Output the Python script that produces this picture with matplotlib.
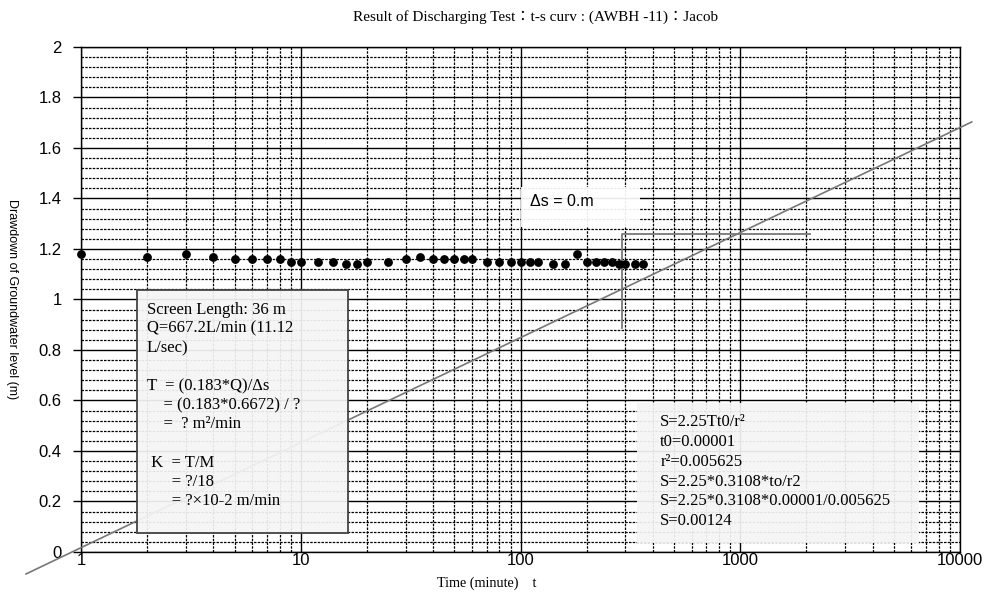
import numpy as np
import matplotlib
matplotlib.use('Agg')
import matplotlib.pyplot as plt
from matplotlib.patches import Rectangle
from matplotlib.ticker import FixedLocator, NullFormatter

# observed drawdown (t in minutes, s in m)
time_min = [1, 2, 3, 4, 5, 6, 7, 8, 9, 10, 12, 14, 16, 18, 20, 25, 30, 35, 40, 45,
            50, 55, 60, 70, 80, 90, 100, 110, 120, 140, 160, 180, 200, 220, 240, 260,
            280, 300, 330, 360]
drawdown = [1.18, 1.17, 1.18, 1.17, 1.16, 1.16, 1.16, 1.16, 1.15, 1.15, 1.15, 1.15,
            1.14, 1.14, 1.15, 1.15, 1.16, 1.17, 1.16, 1.16, 1.16, 1.16, 1.16, 1.15,
            1.15, 1.15, 1.15, 1.15, 1.15, 1.14, 1.14, 1.18, 1.15, 1.15, 1.15, 1.15,
            1.14, 1.14, 1.14, 1.14]

# Jacob straight line (end points)
jacob_t = [0.562, 11300]
jacob_s = [-0.087, 1.703]

# delta-s bracket
bracket_t = [290, 290, 2080]
bracket_s = [0.886, 1.259, 1.259]

x_ticks = [1, 10, 100, 1000, 10000]
x_ticklabels = ['1', '10', '100', '1000', '10000']
y_ticks = [0, 0.2, 0.4, 0.6, 0.8, 1, 1.2, 1.4, 1.6, 1.8, 2]
y_ticklabels = ['0', '0.2', '0.4', '0.6', '0.8', '1', '1.2', '1.4', '1.6', '1.8', '2']

title = 'Result of Discharging Test\uff1at-s curv : (AWBH -11)\uff1aJacob'
x_label = 'Time (minute)    t'
y_label = 'Drawdown of Groundwater level (m)'

box1_lines = [
    'Screen Length: 36 m',
    'Q=667.2L/min (11.12',
    'L/sec)',
    '',
    'T  = (0.183*Q)/\u0394s',
    '    = (0.183*0.6672) / ?',
    '    =  ? m\u00b2/min',
    '',
    ' K  = T/M',
    '      = ?/18',
    '      = ?\u00d710-2 m/min',
]
box2_lines = [
    'S=2.25Tt0/r\u00b2',
    't0=0.00001',
    'r\u00b2=0.005625',
    'S=2.25*0.3108*to/r2',
    'S=2.25*0.3108*0.00001/0.005625',
    'S=0.00124',
]
delta_text = '\u0394s = 0.m'

serif = ['Liberation Serif', 'Noto Sans CJK TC', 'DejaVu Serif']
narrow = ['Liberation Sans Narrow', 'Liberation Sans', 'DejaVu Sans']

fig = plt.figure(figsize=(9.86, 5.99), dpi=100)
ax = fig.add_axes([0.0822, 0.0785, 0.8915, 0.8431])
ax.set_xscale('log')
ax.set_xlim(1, 10000)
ax.set_ylim(0, 2)

# grid
minor_x = [m * 10 ** d for d in range(4) for m in range(2, 10)]
ax.xaxis.set_major_locator(FixedLocator(x_ticks))
ax.xaxis.set_minor_locator(FixedLocator(minor_x))
ax.xaxis.set_minor_formatter(NullFormatter())
ax.yaxis.set_major_locator(FixedLocator(y_ticks))
ax.yaxis.set_minor_locator(FixedLocator(np.arange(0, 2.001, 0.04)))
ax.grid(which='major', color='black', linewidth=1.0, linestyle='-')
ax.grid(which='minor', color='black', linewidth=0.9, linestyle=(0, (2, 1)))
ax.set_axisbelow(True)

ax.set_xticks(x_ticks)
ax.set_xticklabels(x_ticklabels, family=narrow, fontsize=12)
ax.set_yticks(y_ticks)
ax.set_yticklabels(y_ticklabels, family=narrow, fontsize=12)
ax.tick_params(axis='x', which='major', length=0, pad=1)
ax.tick_params(axis='x', which='minor', length=0)
ax.tick_params(axis='y', which='major', length=6, width=1, pad=8)
ax.tick_params(axis='y', which='minor', length=0)
for sp in ax.spines.values():
    sp.set_linewidth(1.0)

# Jacob line and bracket
ax.plot(jacob_t, jacob_s, color='#777777', linewidth=1.2, clip_on=False, zorder=3)
ax.plot(bracket_t, bracket_s, color='#777777', linewidth=1.3, zorder=3)

# data points
ax.plot(time_min, drawdown, 'o', color='black', markersize=5.3, zorder=4, clip_on=False)

# text boxes
ax.add_patch(Rectangle((0.064, 0.037), 0.2394, 0.482, transform=ax.transAxes,
                       facecolor=(0.96, 0.96, 0.96, 0.93), edgecolor='#444444',
                       linewidth=1.3, zorder=5))
ax.text(0.0747, 0.4956, '\n'.join(box1_lines), transform=ax.transAxes, va='top',
        ha='left', family=serif, fontsize=12, linespacing=1.26, zorder=6)

ax.add_patch(Rectangle((0.632, 0.017), 0.321, 0.2775, transform=ax.transAxes,
                       facecolor=(0.96, 0.96, 0.96, 0.93), edgecolor='none',
                       zorder=5))
ax.text(0.659, 0.273, '\n'.join(box2_lines), transform=ax.transAxes, va='top',
        ha='left', family=serif, fontsize=12, linespacing=1.32, zorder=6)

ax.add_patch(Rectangle((0.501, 0.644), 0.135, 0.079, transform=ax.transAxes,
                       facecolor=(1, 1, 1, 0.92), edgecolor='none', zorder=5))
ax.text(0.511, 0.694, delta_text, transform=ax.transAxes, va='center', ha='left',
        family=['Liberation Sans', 'DejaVu Sans'], fontsize=11.5, zorder=6)

fig.text(0.543, 0.9716, title, ha='center', va='center', family=serif, fontsize=11)
fig.text(0.494, 0.0267, x_label, ha='center', va='center', family=serif, fontsize=10.2)
fig.text(0.012, 0.50, y_label, ha='center', va='center', rotation=-90,
         family=['Liberation Sans', 'DejaVu Sans'], fontsize=9)

fig.savefig('out.png', dpi=100)
